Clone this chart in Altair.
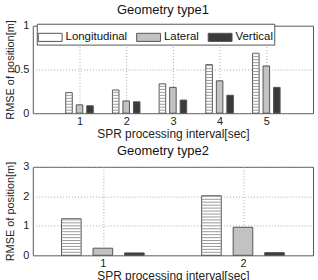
import altair as alt
import pandas as pd

series = ["Longitudinal", "Lateral", "Vertical"]

t1_intervals = [1, 2, 3, 4, 5]
t1_long = [0.235, 0.265, 0.335, 0.555, 0.685]
t1_lat = [0.095, 0.14, 0.295, 0.37, 0.54]
t1_vert = [0.085, 0.13, 0.15, 0.205, 0.295]

t2_intervals = [1, 2]
t2_long = [1.24, 2.02]
t2_lat = [0.24, 0.95]
t2_vert = [0.08, 0.09]

FONT = "Liberation Sans"
FILLS = ["#ffffff", "#c2c2c2", "#3a3a3a"]


def frame(intervals, long, lat, vert):
    rows = []
    for s, vals in zip(series, [long, lat, vert]):
        for i, v in zip(intervals, vals):
            rows.append({"interval": i, "series": s, "value": v})
    return pd.DataFrame(rows)


def panel(title, df, xdomain, xticks, ydomain, yticks, step, height, legend):
    base = alt.Chart(df).transform_calculate(
        off="datum.series == 'Longitudinal' ? -0.225 : (datum.series == 'Lateral' ? 0 : 0.225)"
    ).transform_calculate(
        xl="datum.interval + datum.off - 0.07",
        xr="datum.interval + datum.off + 0.07",
    )
    xscale = alt.Scale(domain=xdomain, nice=False, zero=False)
    xaxis = alt.Axis(values=xticks, format="d", title="SPR processing interval[sec]",
                     grid=True, ticks=False, domain=False, labelPadding=2,
                     titlePadding=2, labelFontSize=11, titleFontSize=12,
                     labelOverlap=False)
    yscale = alt.Scale(domain=ydomain, nice=False)
    yaxis = alt.Axis(values=yticks, format="~g", title="RMSE of position[m]",
                     grid=True, ticks=False, domain=False, labelPadding=4,
                     minExtent=30, maxExtent=30, titleX=-17,
                     labelFontSize=11, titleFontSize=11, labelOverlap=False)
    if legend:
        leg = alt.Legend(orient="none", legendX=4, legendY=-2, direction="horizontal",
                         columns=3, title=None,
                         symbolType="M-1,-0.34H1V0.34H-1Z", symbolSize=576,
                         symbolStrokeColor="#555", symbolStrokeWidth=1,
                         labelFontSize=11.5, labelFont=FONT, labelColor="#111",
                         strokeColor="#555", padding=1, fillColor="white",
                         columnPadding=6, labelOffset=3)
    else:
        leg = None
    fill = alt.Fill("series:N", scale=alt.Scale(domain=series, range=FILLS),
                    sort=series, legend=leg)
    bars = base.mark_bar(stroke="#555", strokeWidth=1).encode(
        x=alt.X("xl:Q", scale=xscale, axis=xaxis), x2="xr:Q",
        y=alt.Y("value:Q", scale=yscale, axis=yaxis), y2=alt.datum(0), fill=fill
    )
    stripes = base.transform_filter("datum.series == 'Longitudinal'").transform_calculate(
        s=f"sequence({step}, datum.value, {step})"
    ).transform_flatten(["s"]).mark_rule(color="#999", strokeWidth=1).encode(
        x=alt.X("xl:Q", scale=xscale, axis=xaxis), x2="xr:Q",
        y=alt.Y("s:Q", scale=yscale, axis=yaxis)
    )
    return alt.layer(bars, stripes).properties(
        width=282, height=height,
        title=alt.TitleParams(title, fontSize=13, fontWeight="normal", offset=3,
                              dx=-10, anchor="middle", font=FONT, color="#111"),
    )


top = panel("Geometry type1", frame(t1_intervals, t1_long, t1_lat, t1_vert),
            [0, 6], t1_intervals, [0, 1], [0, 0.5, 1], 0.034, 88, True)
bottom = panel("Geometry type2", frame(t2_intervals, t2_long, t2_lat, t2_vert),
               [0.5, 2.5], t2_intervals, [0, 3], [0, 1, 2, 3], 0.1, 89, False)

chart = alt.vconcat(top, bottom, spacing=4).resolve_scale(fill="independent").properties(
    padding={"left": 2, "top": 2, "right": 4, "bottom": 0}, background="white"
).configure_view(stroke="#555", strokeWidth=1).configure_axis(
    labelFont=FONT, titleFont=FONT, labelColor="#222", titleColor="#222",
    gridColor="#aaa", gridDash=[1, 2], gridOpacity=1, titleFontWeight="normal"
)

chart.save("out.html", embed_options={"renderer": "svg", "actions": False})
